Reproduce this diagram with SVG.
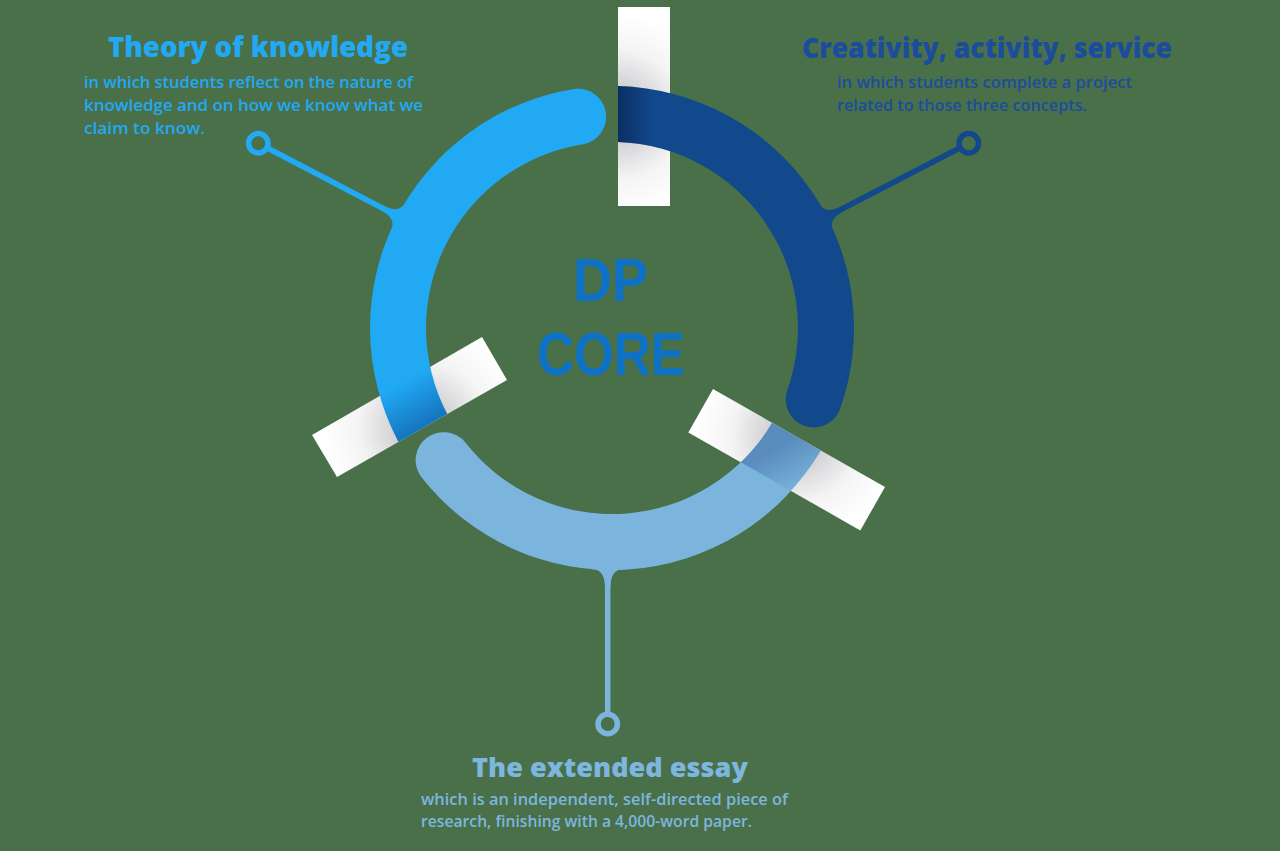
<svg xmlns="http://www.w3.org/2000/svg" width="1280" height="851" viewBox="0 0 1280 851">
<defs>
<style>
.title{font-family:"Open Sans","Liberation Sans",sans-serif;font-weight:800;}
.body{font-family:"Open Sans","Liberation Sans",sans-serif;font-weight:600;font-size:17px;}
.core{font-family:"Liberation Sans","Open Sans",sans-serif;font-weight:700;font-size:61px;fill:#0d72c6;}
.tok{fill:#22a9f3}
.cas{fill:#1b4d9c}
.ee{fill:#7db6de}
.lnTok{stroke:#22a9f3;stroke-width:5.5;fill:none}
.lnCas{stroke:#12488c;stroke-width:5.5;fill:none}
.lnEe{stroke:#7bb5dd;stroke-width:5.5;fill:none}
</style>
<radialGradient id="gTop" gradientUnits="userSpaceOnUse" cx="618" cy="114" r="100">
<stop offset="0" stop-color="#a4a4ac"/><stop offset="0.3" stop-color="#d4d4d8"/><stop offset="0.65" stop-color="#f4f4f4"/><stop offset="1" stop-color="#ffffff"/>
</radialGradient>
<radialGradient id="gLeft" gradientUnits="userSpaceOnUse" cx="423" cy="428" r="100">
<stop offset="0" stop-color="#a4a4ac"/><stop offset="0.3" stop-color="#d4d4d8"/><stop offset="0.65" stop-color="#f4f4f4"/><stop offset="1" stop-color="#ffffff"/>
</radialGradient>
<radialGradient id="gRight" gradientUnits="userSpaceOnUse" cx="796" cy="437" r="100">
<stop offset="0" stop-color="#a4a4ac"/><stop offset="0.3" stop-color="#d4d4d8"/><stop offset="0.65" stop-color="#f4f4f4"/><stop offset="1" stop-color="#ffffff"/>
</radialGradient>
<linearGradient id="sTop" gradientUnits="userSpaceOnUse" x1="618" y1="0" x2="652" y2="0">
<stop offset="0" stop-color="#000820" stop-opacity="0.4"/><stop offset="1" stop-color="#000820" stop-opacity="0"/>
</linearGradient>
<linearGradient id="sLeft" gradientUnits="userSpaceOnUse" x1="423" y1="428" x2="398" y2="385">
<stop offset="0" stop-color="#04246a" stop-opacity="0.4"/><stop offset="1" stop-color="#04246a" stop-opacity="0"/>
</linearGradient>
<linearGradient id="sRight" gradientUnits="userSpaceOnUse" x1="796" y1="437" x2="820.7" y2="480.4">
<stop offset="0" stop-color="#04246a" stop-opacity="0.28"/><stop offset="1" stop-color="#04246a" stop-opacity="0"/>
</linearGradient>
<path id="arcTok" d="M398.5 441.9 A242 242 0 0 1 574.1 89.0 A28 28 0 0 1 582.9 144.3 A186 186 0 0 0 447.2 414.1 Z"/>
<path id="arcCas" d="M618 86.1 A242 242 0 0 1 840.1 408.8 A28 28 0 0 1 787.3 390.1 A186 186 0 0 0 618 142.1 Z"/>
<path id="arcEe" d="M820.8 450.4 A242 242 0 0 1 421.3 477.0 A28 28 0 0 1 465.4 442.5 A186 186 0 0 0 772.1 422.7 Z"/>
<clipPath id="cTok"><use href="#arcTok"/></clipPath>
<clipPath id="cCas"><use href="#arcCas"/></clipPath>
<clipPath id="cEe"><use href="#arcEe"/></clipPath>
<path id="flare" d="M-16 3 L-16 0.8 Q-2.75 0.8 -2.75 -17 L2.75 -17 Q2.75 0.8 16 0.8 L16 3 Z"/>
</defs>
<rect width="1280" height="851" fill="#4a704a"/>
<g id="bars">
<rect x="618" y="7" width="52" height="199" fill="url(#gTop)"/>
<polygon points="312,435 482,337 507,380 337,477" fill="url(#gLeft)"/>
<polygon points="713,389 885,487 860.3,530.4 688.3,432.4" fill="url(#gRight)"/>
</g>
<g id="node-tok">
<use href="#arcTok" fill="#21a9f4"/>
<polygon points="312,435 482,337 507,380 337,477" fill="url(#sLeft)" clip-path="url(#cTok)"/>
<text class="title tok" x="108" y="57" font-size="29" textLength="300" lengthAdjust="spacingAndGlyphs">Theory of knowledge</text>
<text class="body tok" x="84" y="88" textLength="329" lengthAdjust="spacingAndGlyphs">in which students reflect on the nature of</text>
<text class="body tok" x="84" y="111" textLength="339" lengthAdjust="spacingAndGlyphs">knowledge and on how we know what we</text>
<text class="body tok" x="84" y="134" textLength="121" lengthAdjust="spacingAndGlyphs">claim to know.</text>
</g>
<g id="node-cas">
<use href="#arcCas" fill="#12488c"/>
<rect x="618" y="7" width="52" height="199" fill="url(#sTop)" clip-path="url(#cCas)"/>
<text class="title cas" x="802" y="58" font-size="28" textLength="370" lengthAdjust="spacingAndGlyphs">Creativity, activity, service</text>
<text class="body cas" x="837" y="88" textLength="295" lengthAdjust="spacingAndGlyphs">in which students complete a project</text>
<text class="body cas" x="837" y="111" textLength="250" lengthAdjust="spacingAndGlyphs">related to those three concepts.</text>
</g>
<g id="node-ee">
<use href="#arcEe" fill="#7bb5dd"/>
<polygon points="713,389 885,487 860.3,530.4 688.3,432.4" fill="url(#sRight)" clip-path="url(#cEe)"/>
<text class="title ee" x="472" y="777" font-size="27" textLength="276" lengthAdjust="spacingAndGlyphs">The extended essay</text>
<text class="body ee" x="421" y="805" textLength="367" lengthAdjust="spacingAndGlyphs">which is an independent, self-directed piece of</text>
<text class="body ee" x="421" y="827" textLength="331" lengthAdjust="spacingAndGlyphs">research, finishing with a 4,000-word paper.</text>
</g>
<g id="node-core">
<text class="core" x="610.5" y="301" text-anchor="middle" textLength="75" lengthAdjust="spacingAndGlyphs">DP</text>
<text class="core" x="611" y="375" text-anchor="middle" textLength="148" lengthAdjust="spacingAndGlyphs">CORE</text>
</g>
<g id="connectors">
<line class="lnTok" x1="266.9" y1="147.8" x2="397.5" y2="216"/>
<circle class="lnTok" cx="258.3" cy="143.3" r="9.7"/>
<use href="#flare" fill="#21a9f4" transform="translate(397.5 216) rotate(-62.4)"/>
<line class="lnCas" x1="960.2" y1="147.8" x2="826.9" y2="216.8"/>
<circle class="lnCas" cx="968.8" cy="143.3" r="9.7"/>
<use href="#flare" fill="#12488c" transform="translate(826.9 216.8) rotate(62.6)"/>
<line class="lnEe" x1="607.7" y1="714.3" x2="607.7" y2="570"/>
<circle class="lnEe" cx="607.7" cy="724" r="9.7"/>
<use href="#flare" fill="#7bb5dd" transform="translate(607.7 570) rotate(180)"/>
</g>
</svg>
